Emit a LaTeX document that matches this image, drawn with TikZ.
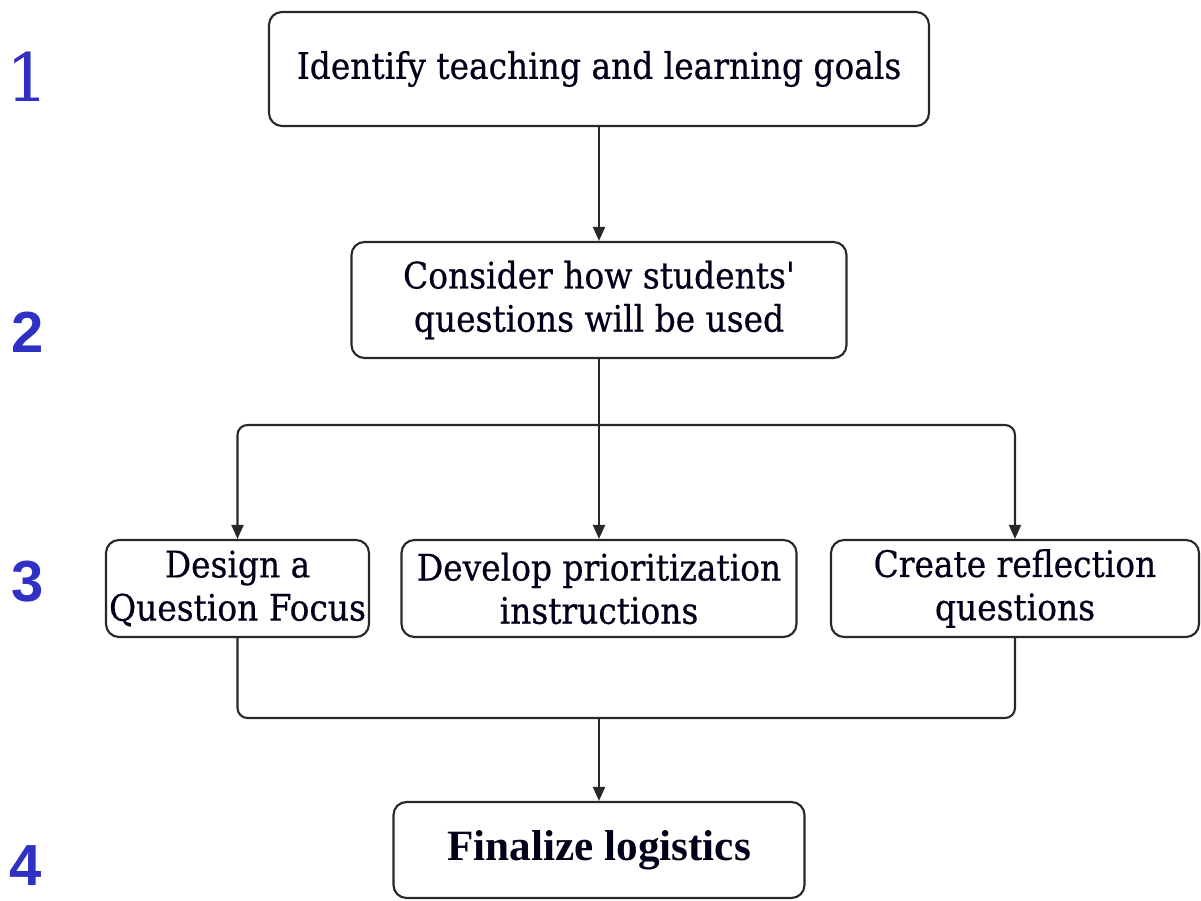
\documentclass[tikz,border=0pt]{standalone}
\usepackage{fontspec}
\usepackage{tikz}
\usetikzlibrary{arrows.meta}
\newfontfamily\boxfont[FakeBold=0.5]{DejaVu Serif Condensed}
\newfontfamily\lastfont{Liberation Serif}
\newfontfamily\numfont{Liberation Sans}
\newfontfamily\onefont{DejaVu Serif}
\definecolor{numblue}{RGB}{48,48,196}
\definecolor{inkgray}{RGB}{40,40,40}

\tikzset{
  stepbox/.style={draw=inkgray, line width=0.6pt, rounded corners=0.13cm, align=center, inner sep=0pt,
    text=black!90!blue, font=\boxfont\fontsize{10.4}{12.3}\selectfont},
  steplabel/.style={text=numblue, font=\numfont\bfseries\fontsize{16.5}{16.5}\selectfont},
  link/.style={draw=inkgray, line width=0.6pt, -{Triangle[length=1.4mm,width=1.2mm]}},
}

\begin{document}
\begin{tikzpicture}
\useasboundingbox (0,0) rectangle (12.01,9.01);

\node[stepbox, minimum width=6.60cm, minimum height=1.14cm] (goals) at (5.99,8.32) {Identify teaching and learning goals};
\node[stepbox, minimum width=4.95cm, minimum height=1.16cm] (use) at (5.99,6.01) {Consider how students'\\questions will be used};

\node[stepbox, minimum width=2.63cm, minimum height=0.97cm] (focus) at (2.375,3.125) {Design a\\Question Focus};
\node[stepbox, minimum width=3.95cm, minimum height=0.97cm] (prior) at (5.99,3.125) {Develop prioritization\\instructions};
\node[stepbox, minimum width=3.68cm, minimum height=0.97cm] (reflect) at (10.15,3.125) {Create reflection\\questions};

\node[stepbox, minimum width=4.11cm, minimum height=0.96cm, font=\lastfont\bfseries\fontsize{12.3}{14}\selectfont] (final) at (5.99,0.51) {Finalize logistics};

\node[steplabel, font=\onefont\fontsize{19}{19}\selectfont] (n1) at (0.28,8.24) {1};
\node[steplabel] (n2) at (0.28,5.69) {2};
\node[steplabel] (n3) at (0.28,3.19) {3};
\node[steplabel] (n4) at (0.26,0.35) {4};

\coordinate (split) at (5.99,4.76);
\coordinate (merge) at (5.99,1.83);

\draw[link] (goals) -- (use);
\draw[link] (use) -- (prior);
\draw[link, rounded corners=0.1cm] (split) -| (focus);
\draw[link, rounded corners=0.1cm] (split) -| (reflect);
\draw[draw=inkgray, line width=0.6pt, rounded corners=0.1cm] (focus) |- (merge) -| (reflect);
\draw[link] (merge) -- (final);
\end{tikzpicture}
\end{document}
